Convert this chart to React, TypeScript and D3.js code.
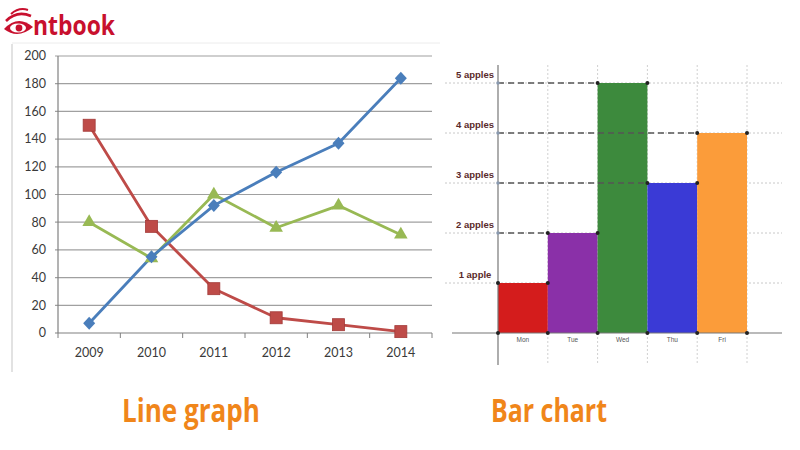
import React from 'react';
import * as d3 from 'd3';

const years = ['2009', '2010', '2011', '2012', '2013', '2014'];
const blueSeries = [7, 55, 92, 116, 137, 184];
const redSeries = [150, 77, 32, 11, 6, 1];
const greenSeries = [80, 54, 100, 76, 92, 71];
const lineTicks = [0, 20, 40, 60, 80, 100, 120, 140, 160, 180, 200];

const days = ['Mon', 'Tue', 'Wed', 'Thu', 'Fri'];
const apples = [1, 2, 5, 3, 4];
const barColors = ['#d41c1c', '#8a30a8', '#3d8a3d', '#3a3ad6', '#fb9c3a'];
const appleLevels = [1, 2, 3, 4, 5];
const appleLabels = ['1 apple', '2 apples', '3 apples', '4 apples', '5 apples'];

const BLUE = '#4a7ebb';
const RED = '#be4b48';
const GREEN = '#98b954';
const ORANGE = '#f0861a';

export default function App() {
  // line chart scales
  const x = d3.scaleBand<string>().domain(years).range([58, 432]);
  const y = d3.scaleLinear().domain([0, 200]).range([333, 56]);
  const cx = (d: string) => (x(d) as number) + x.bandwidth() / 2;
  const line = d3
    .line<number>()
    .x((_, i) => cx(years[i]))
    .y((v) => y(v));

  // bar chart scales
  const xb = d3.scaleBand<string>().domain(days).range([498, 747]);
  const yb = d3.scaleLinear().domain([0, 5]).range([333, 83]);
  const boundaries = days.map((d) => xb(d) as number).concat([xb.range()[1]]);

  const diamond = 'M0,-6.5L6,0L0,6.5L-6,0Z';
  const triangle = d3.symbol(d3.symbolTriangle, 80)() as string;

  return (
    <svg
      width={800}
      height={450}
      style={{ position: 'absolute', left: 0, top: 0, background: '#fff' }}
      fontFamily="Lato, 'Open Sans', sans-serif"
    >
      <rect x={0} y={0} width={800} height={450} fill="#fff" />

      {/* logo */}
      <g>
        <path d="M4,29 Q18,14 33,27 Q18,40 4,29 Z" fill="#c8102e" />
        <ellipse cx={18} cy={28} rx={8} ry={4.5} fill="#fff" />
        <circle cx={19} cy={28} r={3.4} fill="#c8102e" />
        <path d="M6,21 Q17,10 31,16" fill="none" stroke="#c8102e" strokeWidth={2.6} />
        <path d="M11,14 Q19,7 28,10" fill="none" stroke="#c8102e" strokeWidth={2} />
        <text
          x={33}
          y={35}
          fontFamily="'Open Sans', Roboto, sans-serif"
          fontWeight={700}
          fontSize={26}
          fill="#c8102e"
          textLength={82}
          lengthAdjust="spacingAndGlyphs"
        >
          ntbook
        </text>
      </g>

      {/* frame lines of the screenshot */}
      <line x1={12} x2={12} y1={44} y2={372} stroke="#d8d8d8" strokeWidth={1.5} />
      <line x1={12} x2={440} y1={43} y2={43} stroke="#ececec" strokeWidth={1} />

      {/* ---------- Line chart ---------- */}
      <g>
        {lineTicks.map((t) => (
          <g key={t}>
            <line x1={55} x2={432} y1={y(t)} y2={y(t)} stroke={t === 0 ? '#808080' : '#a0a0a0'} strokeWidth={1.2} />
            <text x={46} y={y(t)} dy="0.35em" textAnchor="end" fontSize={12.5} fill="#3a3a3a">
              {t}
            </text>
          </g>
        ))}
        <line x1={58} x2={58} y1={56} y2={333} stroke="#808080" strokeWidth={1.2} />
        {years.map((yr) => (
          <line
            key={'tk' + yr}
            x1={(x(yr) as number)}
            x2={(x(yr) as number)}
            y1={333}
            y2={338}
            stroke="#808080"
          />
        ))}
        <line x1={432} x2={432} y1={333} y2={338} stroke="#808080" />
        {years.map((yr) => (
          <text key={'xl' + yr} x={cx(yr)} y={357} textAnchor="middle" fontSize={12.5} fill="#3a3a3a">
            {yr}
          </text>
        ))}

        <path d={line(redSeries) as string} fill="none" stroke={RED} strokeWidth={2.8} strokeLinejoin="round" />
        <path d={line(greenSeries) as string} fill="none" stroke={GREEN} strokeWidth={2.8} strokeLinejoin="round" />
        <path d={line(blueSeries) as string} fill="none" stroke={BLUE} strokeWidth={2.8} strokeLinejoin="round" />

        {redSeries.map((v, i) => (
          <rect key={'r' + i} x={cx(years[i]) - 6} y={y(v) - 6} width={12} height={12} fill={RED} stroke="#a33a38" strokeWidth={0.8} />
        ))}
        {greenSeries.map((v, i) => (
          <path key={'g' + i} d={triangle} transform={`translate(${cx(years[i])},${y(v)})`} fill={GREEN} />
        ))}
        {blueSeries.map((v, i) => (
          <path key={'b' + i} d={diamond} transform={`translate(${cx(years[i])},${y(v)})`} fill={BLUE} />
        ))}
      </g>

      {/* ---------- Bar chart ---------- */}
      <g>
        {/* dotted grid */}
        {appleLevels.map((l) => (
          <line key={'hg' + l} x1={445} x2={782} y1={yb(l)} y2={yb(l)} stroke="#c8c8c8" strokeWidth={1} strokeDasharray="2,2" />
        ))}
        {boundaries.slice(1).map((bx, i) => (
          <line key={'vg' + i} x1={bx} x2={bx} y1={65} y2={365} stroke="#d0d0d0" strokeWidth={1} strokeDasharray="2,2" />
        ))}

        {/* bars */}
        {days.map((d, i) => (
          <rect
            key={'bar' + d}
            x={xb(d) as number}
            y={yb(apples[i])}
            width={xb.bandwidth()}
            height={yb(0) - yb(apples[i])}
            fill={barColors[i]}
          />
        ))}

        {/* dashed guides from axis to bar */}
        {days.map((d, i) =>
          i === 0 ? null : (
            <line
              key={'dg' + d}
              x1={498}
              x2={xb(d) as number}
              y1={yb(apples[i])}
              y2={yb(apples[i])}
              stroke="#555"
              strokeWidth={1.3}
              strokeDasharray="6,4"
            />
          )
        )}

        {/* axes */}
        <line x1={452} x2={782} y1={yb(0)} y2={yb(0)} stroke="#777" strokeWidth={1.2} />
        <line x1={498} x2={498} y1={65} y2={365} stroke="#777" strokeWidth={1.2} />

        {/* labels */}
        {appleLevels.map((l, i) => (
          <text
            key={'al' + l}
            x={475}
            y={yb(l) - 5}
            textAnchor="middle"
            fontFamily="'Liberation Sans', Arial, sans-serif"
            fontWeight={700}
            fontSize={9.5}
            fill="#5a2a2a"
          >
            {appleLabels[i]}
          </text>
        ))}
        {days.map((d) => (
          <text
            key={'dl' + d}
            x={(xb(d) as number) + xb.bandwidth() / 2}
            y={342}
            textAnchor="middle"
            fontFamily="'Liberation Sans', Arial, sans-serif"
            fontSize={6.5}
            fill="#555"
          >
            {d}
          </text>
        ))}

        {/* dots */}
        {appleLevels.map((l) => (
          <circle key={'ad' + l} cx={498} cy={yb(l)} r={1.8} fill="#8a9ab0" />
        ))}
        {boundaries.map((bx, i) => (
          <circle key={'bd' + i} cx={bx} cy={yb(0)} r={2} fill="#222" />
        ))}
        {days.map((d, i) => (
          <g key={'cd' + d}>
            <circle cx={xb(d) as number} cy={yb(apples[i])} r={2} fill="#222" />
            <circle cx={(xb(d) as number) + xb.bandwidth()} cy={yb(apples[i])} r={2} fill="#222" />
          </g>
        ))}
      </g>

      {/* titles */}
      <text
        x={122}
        y={422}
        fontFamily="'Open Sans', Roboto, sans-serif"
        fontWeight={700}
        fontSize={33}
        fill={ORANGE}
        textLength={138}
        lengthAdjust="spacingAndGlyphs"
      >
        Line graph
      </text>
      <text
        x={491}
        y={422}
        fontFamily="'Open Sans', Roboto, sans-serif"
        fontWeight={700}
        fontSize={33}
        fill={ORANGE}
        textLength={116}
        lengthAdjust="spacingAndGlyphs"
      >
        Bar chart
      </text>
    </svg>
  );
}
